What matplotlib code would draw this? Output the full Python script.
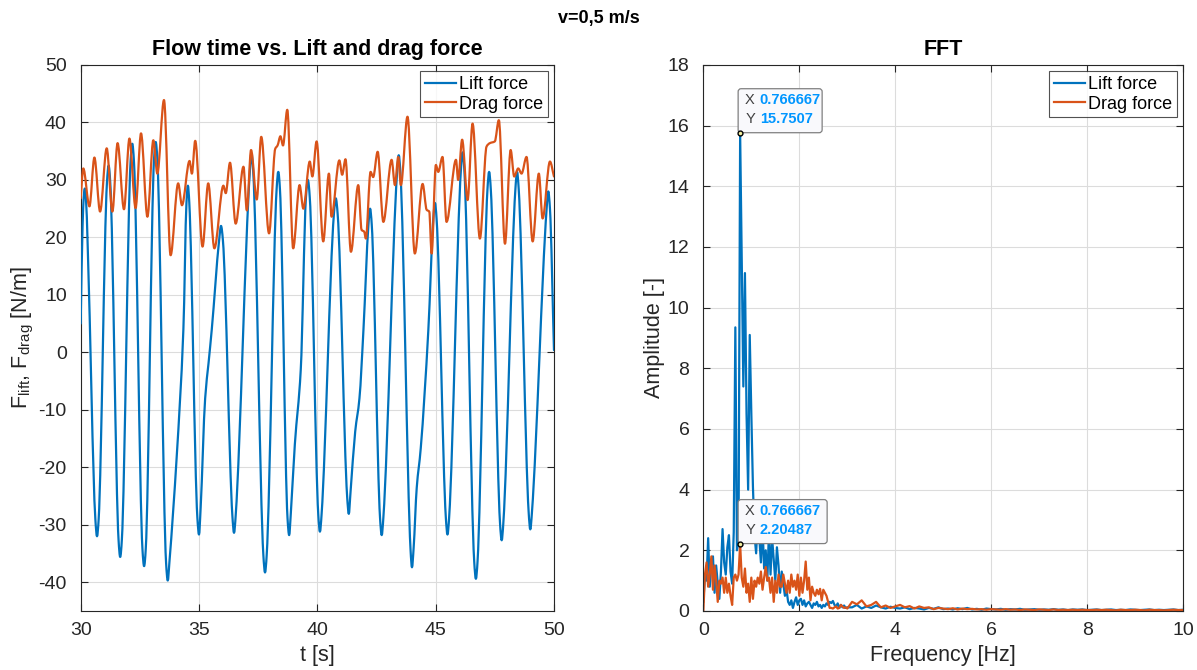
import numpy as np
import matplotlib
matplotlib.use('Agg')
import matplotlib.pyplot as plt
import matplotlib.transforms as mtransforms
from matplotlib.patches import FancyBboxPatch, PathPatch
from matplotlib.path import Path
from matplotlib.lines import Line2D

plt.rcParams['font.family'] = ['Liberation Sans', 'DejaVu Sans']
plt.rcParams['mathtext.fontset'] = 'custom'
plt.rcParams['mathtext.rm'] = 'Liberation Sans'
plt.rcParams['mathtext.it'] = 'Liberation Sans:italic'
plt.rcParams['axes.unicode_minus'] = False

# ---------------- data ----------------
lift_points = [
    (30.00, 5.0), (30.08, 22.0), (30.13, 27.0), (30.17, 28.5), (30.22, 27.0), (30.30, 18.0),
    (30.62, -29.0), (30.69, -32.0), (30.76, -29.0),
    (31.11, 29.5), (31.18, 32.5), (31.25, 29.5),
    (31.60, -32.6), (31.67, -35.6), (31.74, -32.6),
    (32.11, 33.3), (32.18, 36.3), (32.25, 33.3),
    (32.61, -34.2), (32.68, -37.2), (32.75, -34.2),
    (33.10, 33.6), (33.17, 36.6), (33.24, 33.6),
    (33.61, -36.7), (33.68, -39.7), (33.75, -36.5), (34.06, -18.0), (34.34, 4.0),
    (34.47, 26.0), (34.53, 29.0), (34.59, 26.0),
    (34.93, -28.7), (35.00, -31.7), (35.07, -27.0), (35.26, -8.0), (35.40, -2.0), (35.54, 4.0),
    (35.85, 19.5), (35.93, 22.0), (36.01, 19.5),
    (36.41, -28.4), (36.48, -31.4), (36.55, -28.4),
    (37.15, 31.5), (37.22, 34.5), (37.29, 31.5),
    (37.72, -35.3), (37.79, -38.3), (37.86, -35.3),
    (38.28, 28.4), (38.35, 31.4), (38.42, 28.4),
    (38.74, -28.8), (38.81, -31.8), (38.88, -28.0), (39.05, -16.0), (39.30, -3.0),
    (39.52, 27.0), (39.60, 30.0), (39.68, 27.0),
    (40.04, -28.2), (40.11, -31.2), (40.18, -28.2),
    (40.70, 24.0), (40.78, 26.8), (40.86, 24.0),
    (41.26, -25.1), (41.33, -28.1), (41.40, -24.5), (41.60, -13.8), (41.78, -8.0), (41.95, 4.0),
    (42.16, 22.2), (42.23, 25.0), (42.30, 22.2),
    (42.65, -28.8), (42.72, -31.8), (42.79, -28.8),
    (43.37, 31.3), (43.44, 34.3), (43.51, 31.3),
    (43.94, -34.4), (44.00, -37.4), (44.07, -34.0), (44.20, -23.6), (44.37, -16.7), (44.69, 3.8),
    (44.90, 23.2), (44.97, 26.0), (45.04, 23.2),
    (45.43, -28.7), (45.50, -31.7), (45.57, -28.7),
    (46.07, 31.9), (46.14, 34.8), (46.21, 31.9),
    (46.63, -36.4), (46.70, -39.4), (46.77, -36.4),
    (47.19, 28.4), (47.26, 31.4), (47.33, 28.4),
    (47.72, -29.7), (47.79, -32.7), (47.86, -29.7),
    (48.37, 28.4), (48.44, 31.4), (48.51, 28.4),
    (48.93, -27.8), (49.00, -30.8), (49.07, -27.8),
    (49.69, 25.0), (49.76, 28.0), (49.83, 25.0),
    (50.00, 0.4),
]

drag_points = [
    (30.00, 26.8), (30.11, 32.0), (30.37, 25.4), (30.58, 33.9), (30.82, 24.5), (31.10, 35.5),
    (31.34, 24.5), (31.56, 36.4), (31.83, 24.9), (32.06, 37.2), (32.32, 25.1), (32.55, 38.1),
    (32.82, 23.6), (33.07, 36.9), (33.24, 31.1), (33.52, 43.9), (33.80, 16.9), (34.12, 29.4),
    (34.28, 25.6), (34.60, 33.3), (34.70, 31.1), (34.84, 36.8), (35.15, 18.4), (35.39, 29.4),
    (35.65, 18.1), (36.03, 29.0), (36.13, 27.7), (36.31, 33.0), (36.55, 22.4), (36.88, 32.3),
    (37.02, 24.7), (37.20, 35.2), (37.44, 26.6), (37.63, 37.5), (37.96, 20.7), (38.22, 35.4),
    (38.32, 36.0), (38.44, 37.6), (38.55, 36.0), (38.73, 42.2), (38.98, 18.1), (39.25, 29.1),
    (39.41, 25.0), (39.68, 33.2), (39.79, 30.6), (39.97, 36.7), (40.25, 19.3), (40.49, 31.1),
    (40.60, 23.6), (40.93, 33.4), (41.05, 30.9), (41.19, 33.6), (41.42, 17.5), (41.73, 29.1),
    (41.87, 21.3), (41.98, 21.0), (42.05, 19.8), (42.25, 31.4), (42.36, 30.5), (42.55, 34.9),
    (42.79, 22.7), (43.14, 33.5), (43.28, 29.1), (43.42, 34.0), (43.53, 29.1), (43.81, 41.0),
    (44.12, 17.2), (44.45, 29.3), (44.62, 24.8), (44.73, 24.5), (44.83, 17.2), (45.01, 32.6),
    (45.11, 31.4), (45.29, 34.0), (45.46, 22.7), (45.86, 33.5), (45.95, 30.0), (46.12, 37.0),
    (46.35, 26.5), (46.56, 39.8), (46.87, 19.8), (47.15, 35.8), (47.29, 36.4), (47.50, 36.7),
    (47.67, 40.4), (47.93, 18.9), (48.17, 35.2), (48.32, 30.6), (48.49, 32.0), (48.63, 31.1),
    (48.84, 34.0), (49.10, 19.3), (49.36, 31.1), (49.52, 23.3), (49.83, 33.2), (50.00, 30.6),
]

# FFT: bins k/30 Hz for k = 0..90
fft_bins = np.arange(91) / 30.0
lift_fft_lo = [
    0.3, 1.2, 1.0, 2.4, 0.8, 1.6, 1.8, 0.6, 1.5, 0.9,
    0.4, 1.3, 2.7, 1.6, 1.2, 2.1, 2.5, 1.3, 0.9, 2.6,
    9.35, 2.0, 2.3, 15.7507, 11.6, 7.4, 11.14, 6.5, 4.0, 9.1,
    6.5, 4.1, 2.5, 1.9, 3.0, 2.4, 1.6, 2.8, 1.4, 2.0,
    1.0, 2.6, 1.2, 2.4, 1.7, 1.0, 2.1, 1.5, 0.6, 1.3,
    0.9, 0.5, 0.7, 0.3, 0.2, 0.35, 0.1, 0.3, 0.45, 0.2,
    0.35, 0.4, 0.2, 0.35, 0.15, 0.25, 0.3, 0.2, 0.1, 0.25,
    0.2, 0.3, 0.15, 0.2, 0.1, 0.2, 0.15, 0.25, 0.2, 0.3,
    0.26, 0.33, 0.2, 0.15, 0.25, 0.1, 0.2, 0.12, 0.18, 0.1, 0.12,
]
drag_fft_lo = [
    0.0, 1.2, 1.6, 0.8, 1.2, 1.8, 0.7, 1.5, 1.0, 0.3,
    1.0, 0.9, 1.1, 0.6, 1.1, 0.6, 0.9, 0.5, 0.2, 1.1,
    1.2, 1.0, 1.2, 2.20487, 1.1, 0.8, 1.4, 0.6, 0.9, 0.3,
    1.1, 0.4, 1.0, 0.8, 1.1, 0.9, 1.3, 0.7, 1.1, 1.45,
    1.0, 1.1, 0.6, 1.1, 0.3, 1.0, 0.6, 1.2, 0.8, 0.8,
    1.2, 0.9, 0.6, 1.0, 0.6, 1.2, 0.8, 1.0, 0.7, 1.2,
    0.5, 1.1, 0.6, 1.0, 1.63, 0.7, 1.1, 0.35, 0.8, 0.6,
    0.5, 0.7, 0.55, 0.73, 0.35, 0.7, 0.6, 0.5, 0.3, 0.1,
    0.1, 0.08, 0.12, 0.15, 0.08, 0.1, 0.2, 0.15, 0.1, 0.12, 0.08,
]
# tail: 3.1 .. 10.0 Hz, every 0.1 Hz
fft_tail = np.round(np.arange(31, 101) / 10.0, 1)
lift_fft_tail = [
    0.12, 0.2, 0.08, 0.15, 0.1, 0.18, 0.12, 0.08, 0.14, 0.1,
    0.08, 0.12, 0.06, 0.1, 0.08, 0.05, 0.1, 0.07, 0.12, 0.06,
    0.08, 0.05, 0.09, 0.06, 0.1, 0.05, 0.07, 0.04, 0.08, 0.06,
    0.05, 0.07, 0.04, 0.06, 0.05, 0.07, 0.04, 0.05, 0.06, 0.04,
    0.05, 0.04, 0.06, 0.04, 0.05, 0.03, 0.05, 0.04, 0.05, 0.03,
    0.04, 0.05, 0.03, 0.04, 0.05, 0.03, 0.04, 0.03, 0.05, 0.04,
    0.03, 0.04, 0.05, 0.03, 0.04, 0.03, 0.04, 0.05, 0.03, 0.04,
]
drag_fft_tail = [
    0.3, 0.22, 0.35, 0.15, 0.2, 0.3, 0.12, 0.18, 0.1, 0.15,
    0.2, 0.12, 0.16, 0.08, 0.15, 0.1, 0.12, 0.06, 0.1, 0.08,
    0.06, 0.09, 0.05, 0.08, 0.06, 0.07, 0.05, 0.06, 0.04, 0.06,
    0.05, 0.04, 0.06, 0.04, 0.05, 0.03, 0.05, 0.04, 0.03, 0.05,
    0.04, 0.03, 0.05, 0.03, 0.04, 0.03, 0.04, 0.03, 0.04, 0.03,
    0.03, 0.04, 0.03, 0.04, 0.03, 0.02, 0.04, 0.03, 0.03, 0.04,
    0.03, 0.02, 0.04, 0.03, 0.03, 0.02, 0.03, 0.04, 0.03, 0.03,
]

tip_freq = 0.766667
tip_lift = 15.7507
tip_drag = 2.20487

series_names = ['Lift force', 'Drag force']
blue = '#0072BD'
orange = '#D95319'
axcol = '#262626'

lift_t, lift_v = zip(*lift_points)
drag_t, drag_v = zip(*drag_points)
freq = np.concatenate([fft_bins, fft_tail])
lift_fft = np.concatenate([lift_fft_lo, lift_fft_tail])
drag_fft = np.concatenate([drag_fft_lo, drag_fft_tail])


def smooth_line(ax, t, v, color, lw):
    """Draw a curve through the read points as cubic Bezier segments
    (flat tangent at local extrema, harmonic-mean slope elsewhere)."""
    t = np.asarray(t, float)
    v = np.asarray(v, float)
    n = len(t)
    s = np.diff(v) / np.diff(t)
    m = np.zeros(n)
    m[0], m[-1] = s[0], s[-1]
    for i in range(1, n - 1):
        if s[i - 1] * s[i] > 0:
            m[i] = 2.0 / (1.0 / s[i - 1] + 1.0 / s[i])
    verts = [(t[0], v[0])]
    codes = [Path.MOVETO]
    for i in range(n - 1):
        d = (t[i + 1] - t[i]) / 3.0
        verts += [(t[i] + d, v[i] + m[i] * d),
                  (t[i + 1] - d, v[i + 1] - m[i + 1] * d),
                  (t[i + 1], v[i + 1])]
        codes += [Path.CURVE4] * 3
    patch = PathPatch(Path(verts, codes), fill=False, edgecolor=color, lw=lw,
                      capstyle='round', joinstyle='round', zorder=3)
    ax.add_patch(patch)


# ---------------- figure ----------------
fig = plt.figure(figsize=(11.97, 6.70), dpi=100)
fig.patch.set_facecolor('white')
ax1 = fig.add_axes([0.0674, 0.0881, 0.3954, 0.8149])
ax2 = fig.add_axes([0.5876, 0.0881, 0.4008, 0.8149])


def style(ax):
    ax.grid(True, color='#dcdcdc', linewidth=0.8)
    ax.set_axisbelow(True)
    for s in ax.spines.values():
        s.set_color(axcol)
        s.set_linewidth(0.8)
    ax.tick_params(direction='in', which='both', top=True, right=True,
                   length=5, width=0.8, color=axcol, labelcolor=axcol,
                   labelsize=14)
    ax.tick_params(axis='x', pad=8)
    ax.tick_params(axis='y', pad=10)


smooth_line(ax1, lift_t, lift_v, blue, 1.6)
smooth_line(ax1, drag_t, drag_v, orange, 1.6)
ax1.set_xlim(30, 50)
ax1.set_ylim(-45, 50)
ax1.set_xticks([30, 35, 40, 45, 50])
ax1.set_yticks(np.arange(-40, 51, 10))
style(ax1)
ax1.set_title('Flow time vs. Lift and drag force', fontsize=15.5, fontweight='bold', pad=7)
ax1.set_xlabel('t [s]', fontsize=15.5, color=axcol)
ax1.set_ylabel(r'F$_{\mathregular{lift}}$, F$_{\mathregular{drag}}$ [N/m]', fontsize=15.5,
               color=axcol, labelpad=2)

ax2.plot(freq, lift_fft, color=blue, lw=1.6, label=series_names[0])
ax2.plot(freq, drag_fft, color=orange, lw=1.6, label=series_names[1])
ax2.set_xlim(0, 10)
ax2.set_ylim(0, 18)
ax2.set_xticks(np.arange(0, 11, 2))
ax2.set_yticks(np.arange(0, 19, 2))
style(ax2)
ax2.set_title('FFT', fontsize=15.5, fontweight='bold', pad=7)
ax2.set_xlabel('Frequency [Hz]', fontsize=15.5, color=axcol)
ax2.set_ylabel('Amplitude [-]', fontsize=15.5, color=axcol, labelpad=2)

handles = [Line2D([], [], color=blue, lw=1.6), Line2D([], [], color=orange, lw=1.6)]
for ax in (ax1, ax2):
    leg = ax.legend(handles, series_names, loc='upper right', fontsize=13, frameon=True,
                    fancybox=False, borderaxespad=0.35, handlelength=1.75,
                    handletextpad=0.15, borderpad=0.25, labelspacing=0.15)
    leg.get_frame().set_edgecolor(axcol)
    leg.get_frame().set_linewidth(0.8)


# data tips
def datatip(ax, x, y, width, val_x, val_y):
    trans = fig.dpi_scale_trans + mtransforms.ScaledTranslation(x, y, ax.transData)
    box = FancyBboxPatch((-0.02, 0.005), width, 0.44,
                         boxstyle='round,pad=0,rounding_size=0.03',
                         transform=trans, fc='#f9f9fc', ec='#808080', lw=0.9,
                         clip_on=False, zorder=6)
    ax.add_patch(box)
    for yy, lab, val in ((0.33, 'X', val_x), (0.14, 'Y', val_y)):
        ax.text(0.05, yy, lab, transform=trans, fontsize=10.5, color='#404040',
                va='center', ha='left', zorder=7)
        ax.text(0.195, yy, val, transform=trans, fontsize=10.5, color='#0096ff',
                fontweight='bold', va='center', ha='left', zorder=7)
    ax.plot([x], [y], marker='o', ms=3.5, mfc='#f4f0a0', mec='black', mew=1.0,
            zorder=8, clip_on=False)


datatip(ax2, tip_freq, tip_lift, 0.84, '0.766667', '15.7507')
datatip(ax2, tip_freq, tip_drag, 0.89, '0.766667', '2.20487')

fig.suptitle('v=0,5 m/s', fontsize=13, fontweight='bold', y=0.985, color='black')

fig.savefig('out.png', dpi=100, facecolor='white')
